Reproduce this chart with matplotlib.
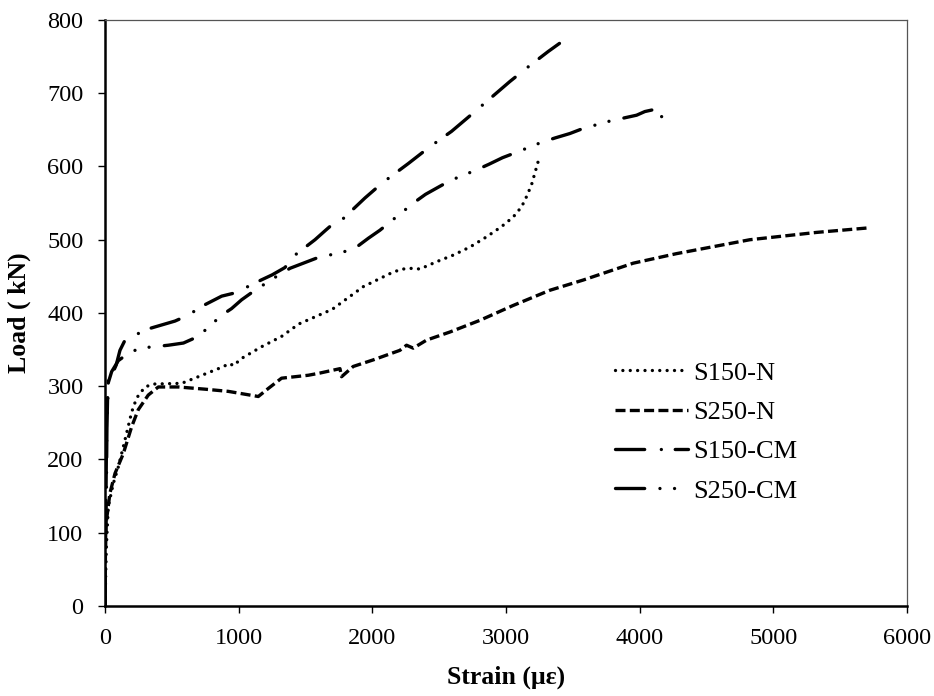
import matplotlib
matplotlib.use("Agg")
import matplotlib.pyplot as plt
import matplotlib.ticker as ticker

# strain (micro-strain) / load (kN)
s150n_strain = [0, 10, 25, 62, 100, 150, 200, 237, 299, 362, 574, 698, 848, 935, 960,
                1022, 1172, 1321, 1450, 1700, 1933, 2157, 2229, 2300, 2356, 2481, 2605,
                2730, 2855, 2967, 3054, 3117, 3154, 3191, 3216, 3241, 3250]
s150n_load = [0, 80, 136, 167, 190, 227, 265, 284, 299, 303, 304, 313, 324, 331, 328,
              338, 354, 368, 385, 405, 436, 456, 460, 461, 460, 470, 479,
              490, 504, 518, 531, 545, 559, 575, 591, 607, 615]

s250n_strain = [0, 5, 37, 75, 137, 200, 249, 324, 399, 549, 748, 923, 1147, 1222, 1321,
                1521, 1608, 1758, 1770, 1857, 2007, 2206, 2256, 2306, 2406, 2580, 2805,
                3050, 3328, 3578, 3952, 4275, 4824, 5323, 5700]
s250n_load = [0, 108, 154, 181, 208, 245, 268, 288, 299, 299, 296, 293, 286, 297, 311,
              315, 318, 324, 313, 327, 336, 349, 356, 352, 363, 374, 390,
              410, 431, 445, 468, 481, 500, 510, 516]

s150cm_strain = [0, 5, 10, 20, 25, 50, 84, 112, 150, 237, 337, 524, 623, 723, 873, 985,
                 1110, 1250, 1346, 1421, 1571, 1651, 1733, 1783, 1945, 2027, 2107, 2269,
                 2431, 2593, 2755, 3029, 3166, 3316, 3400]
s150cm_load = [0, 100, 200, 290, 310, 315, 329, 349, 363, 371, 379, 389, 397, 409, 423, 428,
               440, 452, 462, 479, 500, 513, 526, 529, 557, 570, 582, 604,
               627, 648, 673, 716, 736, 757, 768]

s250cm_strain = [0, 10, 15, 25, 50, 100, 175, 262, 474, 587, 698, 873, 947, 1022, 1122,
                 1284, 1384, 1484, 1584, 1795, 1882, 1970, 2057, 2314, 2398, 2496, 2585,
                 2775, 2872, 2974, 3074, 3266, 3368, 3478, 3578, 3777, 3877, 3977, 4039,
                 4139, 4176]
s250cm_load = [0, 150, 250, 305, 320, 335, 345, 352, 356, 359, 368, 397, 406, 418, 431,
               450, 461, 468, 475, 484, 490, 502, 513, 551, 562, 572, 581,
               595, 603, 612, 619, 633, 639, 645, 652, 662, 666, 670, 675,
               679, 663]

labels = ["S150-N", "S250-N", "S150-CM", "S250-CM"]

plt.rcParams["font.family"] = ["Liberation Serif", "DejaVu Serif"]
plt.rcParams["lines.scale_dashes"] = False

fig = plt.figure(figsize=(9.34, 6.96), dpi=100)
ax = fig.add_axes([0.1124, 0.1293, 0.8587, 0.842])

ax.plot(s150n_strain, s150n_load, color="black", linewidth=2.4,
        linestyle=(0, (0.01, 5.3)), dash_capstyle="round", label=labels[0])
ax.plot(s250n_strain, s250n_load, color="black", linewidth=2.4,
        linestyle=(0, (7.2, 3.1)), dash_capstyle="butt", label=labels[1])
ax.plot(s150cm_strain, s150cm_load, color="black", linewidth=2.4,
        linestyle=(0, (21, 12, 0.01, 10)), dash_capstyle="round", label=labels[2])
ax.plot(s250cm_strain, s250cm_load, color="black", linewidth=2.4,
        linestyle=(0, (21, 11, 0.01, 10.5, 0.01, 11)), dash_capstyle="round",
        label=labels[3])

ax.set_xlim(0, 6000)
ax.set_ylim(0, 800)
ax.xaxis.set_major_locator(ticker.MultipleLocator(1000))
ax.yaxis.set_major_locator(ticker.MultipleLocator(100))

for side in ["left", "bottom"]:
    ax.spines[side].set_linewidth(1.8)
    ax.spines[side].set_color("black")
for side in ["top", "right"]:
    ax.spines[side].set_linewidth(0.9)
    ax.spines[side].set_color("#555555")

ax.tick_params(direction="out", length=5, width=1, labelsize=17.5, colors="black")
ax.tick_params(axis="x", pad=10.5)
ax.tick_params(axis="y", pad=10.5)

ax.set_xlabel("Strain (\u03bc\u03b5)", fontsize=18.5, fontweight="bold", labelpad=12)
ax.set_ylabel("Load ( kN)", fontsize=18.5, fontweight="bold", labelpad=12)

ax.legend(loc="center left", bbox_to_anchor=(0.636, 0.297), frameon=False,
          fontsize=19, handlelength=2.75, handletextpad=0.2, labelspacing=0.6,
          borderpad=0, borderaxespad=0)

fig.savefig("out.png", dpi=100)
